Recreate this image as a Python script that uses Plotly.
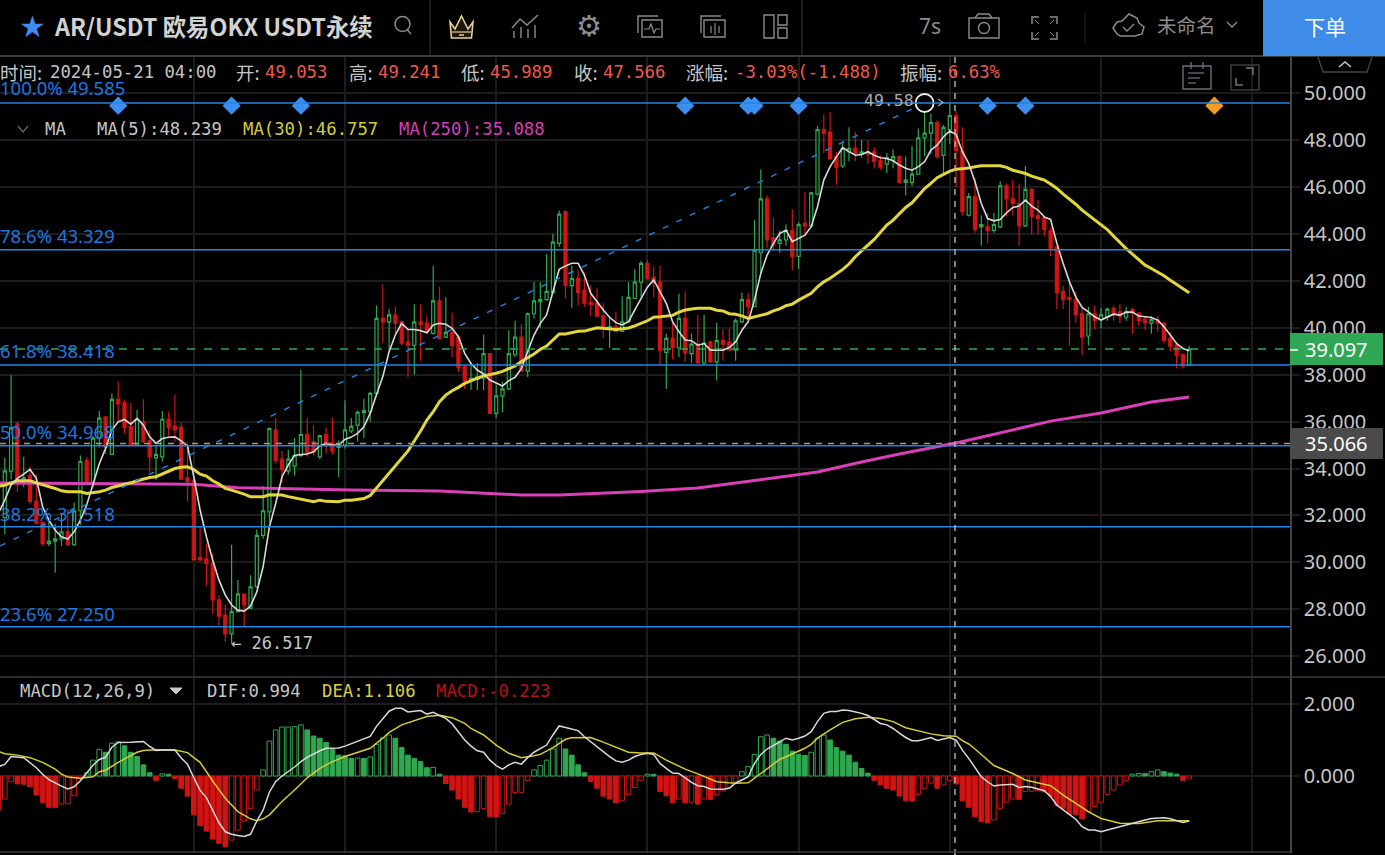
import plotly.graph_objects as go

# ---- candle series (4h bars, oldest first) ----
opens = [
    31.9, 33.89, 35.9, 33.5, 33.7, 32.6, 31.7, 30.8, 30.9, 31.0,
    31.3, 30.75, 32.2, 34.35, 33.35, 35.3, 36.2, 34.6, 36.95, 36.8,
    35.8, 35.0, 36.0, 35.2, 34.45, 34.5, 36.1, 35.8, 35.75, 33.6,
    33.5, 30.2, 30.15, 29.95, 28.4, 27.75, 26.95, 27.9, 28.65, 28.05,
    28.95, 31.15, 32.15, 35.65, 34.4, 33.9, 34.1, 34.55, 35.45, 35.15,
    34.5, 35.45, 35.1, 34.9, 35.0, 35.6, 35.85, 36.38, 36.42, 37.2,
    40.4, 40.25, 40.55, 40.25, 39.4, 39.25, 40.25, 40.2, 39.75, 41.15,
    39.6, 39.8, 39.6, 38.35, 37.75, 37.8, 37.85, 38.9, 36.35, 37.1,
    37.4, 38.85, 39.6, 38.15, 40.6, 41.1, 41.2, 41.5, 43.6, 44.95,
    41.8, 42.1, 41.6, 41.1, 41.05, 40.5, 39.95, 40.05, 39.85, 40.25,
    41.25, 41.95, 42.75, 42.15, 41.95, 38.95, 39.55, 39.15, 40.4, 38.9,
    39.3, 38.5, 39.4, 38.55, 39.45, 39.4, 39.05, 40.25, 41.2, 40.9,
    43.2, 45.5, 43.85, 43.6, 43.75, 44.15, 43.05, 44.45, 44.35, 45.7,
    48.45, 48.35, 47.3, 46.9, 47.5, 47.65, 47.4, 47.5, 47.5, 47.15,
    46.98, 47.15, 47.3, 46.2, 46.2, 46.55, 48.1, 48.3, 48.75, 47.35,
    48.45, 49.053, 47.55, 44.8, 45.6, 44.3, 44.3, 44.15, 44.3, 46.05,
    45.5, 45.3, 44.35, 45.9, 44.8, 44.7, 44.15, 43.45, 41.55, 41.3,
    41.2, 40.6, 39.65, 40.6, 40.35, 40.47, 40.82, 40.68, 40.45, 40.78,
    40.62, 40.37, 40.2, 40.33, 40.2, 39.55, 39.27, 38.87, 38.4,
]
highs = [
    34.45, 37.98, 36.0, 34.5, 34.1, 33.75, 31.75, 31.8, 31.65, 32.1,
    32.25, 32.55, 34.55, 34.5, 35.4, 36.45, 36.2, 37.2, 37.7, 36.95,
    36.8, 36.5, 36.95, 35.6, 35.0, 36.45, 36.4, 37.15, 35.95, 35.1,
    33.55, 31.55, 30.8, 30.35, 28.6, 28.2, 30.75, 29.25, 28.65, 29.45,
    31.4, 33.25, 35.75, 36.15, 34.75, 34.8, 35.3, 38.2, 36.15, 35.85,
    35.45, 35.75, 36.15, 35.2, 36.9, 36.15, 36.47, 36.97, 37.27, 40.95,
    41.85, 40.8, 40.9, 40.3, 39.9, 41.0, 41.0, 40.5, 42.65, 41.75,
    41.3, 40.65, 39.7, 38.35, 38.5, 38.5, 39.7, 38.9, 37.55, 37.7,
    39.9, 40.3, 40.15, 40.65, 41.95, 41.95, 43.15, 44.0, 45.0, 45.0,
    42.65, 42.45, 42.35, 41.8, 41.7, 41.05, 40.5, 40.7, 41.35, 41.95,
    42.5, 42.85, 42.9, 42.6, 42.65, 39.75, 40.2, 41.45, 41.55, 39.75,
    40.55, 40.55, 39.45, 40.2, 39.95, 39.95, 40.4, 41.5, 41.5, 44.6,
    46.75, 45.65, 44.7, 44.15, 44.4, 45.05, 44.5, 45.8, 45.8, 48.6,
    49.1, 49.2, 47.5, 47.95, 48.55, 48.35, 48.0, 48.0, 47.7, 47.35,
    47.45, 47.6, 47.35, 47.3, 47.75, 48.5, 49.15, 49.15, 48.85, 48.65,
    49.55, 49.241, 48.55, 45.75, 46.4, 44.8, 44.9, 44.9, 46.25, 46.15,
    46.3, 46.15, 46.9, 45.95, 45.45, 44.75, 44.3, 43.45, 41.8, 41.9,
    41.55, 40.9, 40.9, 40.95, 40.85, 40.85, 40.95, 41.0, 40.9, 40.87,
    40.68, 40.47, 40.5, 40.5, 40.25, 39.83, 39.4, 38.9, 39.25,
]
lows = [
    31.2, 33.53, 33.0, 33.2, 32.5, 31.6, 30.7, 30.7, 29.55, 30.7,
    30.7, 30.7, 31.6, 33.3, 33.2, 34.9, 34.6, 34.6, 36.0, 35.5,
    35.0, 35.0, 35.1, 33.8, 33.5, 34.3, 35.4, 35.15, 33.55, 32.6,
    30.1, 30.05, 29.0, 27.8, 27.3, 26.6, 26.517, 27.85, 27.25, 28.0,
    28.9, 31.0, 31.7, 34.2, 33.4, 33.75, 33.7, 34.5, 34.5, 34.55,
    34.4, 34.65, 34.6, 33.65, 34.85, 35.5, 35.15, 35.3, 36.0, 37.15,
    39.35, 39.05, 39.75, 39.25, 37.9, 38.0, 38.6, 39.75, 39.75, 39.5,
    39.55, 38.75, 38.1, 37.4, 37.35, 37.35, 37.35, 36.35, 36.15, 36.4,
    37.35, 38.75, 38.15, 37.9, 40.4, 40.0, 41.15, 41.5, 43.45, 41.25,
    40.85, 40.95, 40.9, 40.5, 40.45, 39.55, 39.15, 39.8, 39.85, 40.25,
    41.25, 41.3, 42.05, 41.3, 38.4, 37.4, 38.65, 38.75, 38.55, 38.5,
    38.5, 38.4, 38.5, 37.75, 38.6, 39.05, 38.6, 40.2, 40.45, 40.9,
    42.3, 43.4, 43.3, 43.2, 43.5, 42.45, 42.5, 43.95, 44.3, 45.65,
    47.45, 47.2, 46.1, 46.8, 47.1, 47.1, 47.25, 47.0, 46.8, 46.75,
    46.6, 46.8, 46.2, 45.65, 46.05, 46.55, 47.3, 47.4, 47.2, 46.55,
    47.85, 45.989, 44.8, 44.75, 44.05, 43.5, 43.6, 44.05, 44.25, 44.75,
    44.8, 43.5, 44.3, 43.98, 44.0, 43.9, 43.05, 40.8, 40.8, 39.25,
    40.2, 38.85, 39.25, 39.95, 39.98, 40.3, 40.3, 40.2, 40.3, 39.75,
    40.1, 39.9, 39.75, 39.83, 39.33, 38.98, 38.27, 38.27, 38.38,
]
closes = [
    33.9, 35.73, 33.4, 33.6, 32.6, 31.7, 30.8, 30.9, 31.0, 31.3,
    30.75, 32.2, 34.3, 33.4, 35.3, 36.15, 34.9, 36.95, 36.75, 35.75,
    35.0, 36.1, 35.15, 34.5, 34.6, 36.1, 35.75, 35.65, 33.55, 33.45,
    30.1, 30.1, 29.95, 28.4, 27.7, 26.95, 27.9, 28.65, 28.2, 28.95,
    31.15, 32.2, 35.7, 34.35, 33.95, 34.4, 34.55, 35.45, 34.65, 34.7,
    35.4, 35.0, 34.75, 34.95, 35.65, 35.8, 36.4, 36.47, 37.2, 40.4,
    40.25, 40.55, 40.2, 39.35, 39.25, 40.25, 40.15, 39.85, 41.15, 39.55,
    39.8, 39.25, 38.3, 37.75, 37.85, 37.9, 38.9, 36.35, 37.1, 37.4,
    38.9, 39.6, 38.15, 40.6, 41.15, 41.2, 41.55, 43.65, 44.85, 41.8,
    42.1, 41.5, 41.05, 41.0, 40.5, 39.95, 40.05, 39.85, 40.25, 41.3,
    41.95, 42.75, 42.1, 41.9, 39.05, 39.55, 39.15, 40.4, 38.93, 39.3,
    38.5, 39.35, 38.55, 39.45, 39.3, 39.05, 40.3, 41.2, 40.9, 43.3,
    45.5, 43.75, 43.55, 43.75, 44.15, 43.05, 44.4, 44.35, 45.75, 48.45,
    48.3, 47.2, 46.85, 47.65, 47.65, 47.45, 47.5, 47.4, 47.1, 46.85,
    47.25, 47.3, 46.2, 46.3, 46.55, 48.1, 48.3, 48.75, 47.3, 48.55,
    49.05, 47.566, 44.95, 45.6, 44.2, 44.4, 44.15, 44.4, 46.05, 45.5,
    45.3, 44.35, 45.9, 44.75, 44.65, 44.2, 43.4, 41.5, 41.2, 41.2,
    40.55, 39.6, 40.6, 40.3, 40.55, 40.8, 40.58, 40.5, 40.68, 40.62,
    40.3, 40.22, 40.35, 40.2, 39.47, 39.22, 38.83, 38.38, 39.097,
]

# ---- moving averages; the first point belongs to the bar just off the left edge ----
ma5 = [
    32.1,
    32.65, 33.3, 33.58, 33.76, 33.96, 33.58, 32.37, 31.8, 31.37, 31.09,
    30.99, 31.3, 31.8, 32.44, 33.36, 34.2, 34.86, 35.64, 35.99, 36.09,
    35.89, 36.14, 35.85, 35.35, 35.07, 35.28, 35.33, 35.35, 35.18, 34.96,
    33.65, 32.23, 31.09, 30.1, 29.24, 28.6, 28.18, 27.96, 27.92, 28.13,
    28.74, 29.81, 31.52, 32.51, 33.65, 34.15, 34.57, 34.59, 34.62, 34.71,
    34.96, 35.07, 35.0, 35.0, 35.24, 35.34, 35.5, 35.78, 36.36, 37.15,
    37.92, 38.98, 39.7, 40.19, 39.93, 39.93, 39.88, 39.79, 40.12, 40.19,
    40.15, 39.98, 39.62, 38.91, 38.48, 38.2, 38.03, 37.77, 37.66, 37.52,
    37.75, 37.89, 38.27, 38.98, 39.69, 40.19, 40.55, 41.54, 42.49, 42.64,
    42.75, 42.75, 42.25, 41.47, 41.11, 40.76, 40.45, 40.22, 40.12, 40.26,
    40.76, 41.26, 41.73, 42.04, 41.54, 41.04, 40.26, 39.84, 39.48, 39.45,
    39.26, 39.33, 39.05, 39.05, 39.05, 39.16, 39.4, 39.9, 40.26, 41.18,
    42.32, 43.1, 43.6, 44.02, 44.17, 43.67, 43.81, 43.95, 44.31, 45.16,
    46.3, 46.87, 47.29, 47.68, 47.51, 47.36, 47.39, 47.51, 47.36, 47.25,
    47.22, 47.12, 46.94, 46.8, 46.72, 46.87, 47.08, 47.58, 47.79, 48.15,
    48.39, 48.239, 47.51, 47.01, 46.23, 45.3, 44.66, 44.56, 44.62, 44.9,
    45.13, 45.19, 45.45, 45.19, 45.02, 44.73, 44.62, 43.6, 42.74, 41.96,
    41.32, 40.87, 40.68, 40.47, 40.33, 40.44, 40.58, 40.54, 40.67, 40.67,
    40.5, 40.47, 40.44, 40.33, 40.04, 39.69, 39.33, 39.12, 39.02,
]
ma30_bar = [
    -1, 0, 2, 4, 5, 7, 8, 9, 10, 12, 13, 15, 16, 17, 18, 20, 21, 23, 24, 25, 27,
    28, 29, 30, 31, 32, 33, 34, 35, 36, 37, 38, 39, 41, 42, 44, 45, 48, 49, 50, 51,
    53, 54, 55, 57, 58, 60, 62, 64, 66, 67, 68, 69, 70, 71, 72, 73, 75, 76, 78, 79,
    81, 82, 84, 85, 86, 87, 88, 89, 90, 91, 92, 93, 94, 95, 97, 99, 100, 102, 103, 104,
    105, 106, 107, 108, 109, 110, 112, 113, 114, 115, 116, 117, 118, 119, 120, 121, 122, 123, 124, 125,
    126, 127, 128, 129, 130, 131, 132, 133, 134, 135, 136, 137, 138, 139, 140, 141, 142, 143, 144, 145,
    146, 147, 148, 149, 150, 151, 152, 153, 154, 155, 158, 159, 160, 161, 162, 163, 164, 165, 166, 167,
    168, 169, 170, 171, 172, 173, 174, 175, 176, 177, 178, 179, 180, 181, 182, 183, 184, 185, 186, 187, 188,
]
ma30_val = [
    33.25, 33.29, 33.48, 33.48, 33.39, 33.25, 33.15, 33.05, 33.01, 33.01, 32.94, 33.01, 33.08, 33.19, 33.25, 33.39, 33.48, 33.62, 33.65, 33.76, 34.0,
    34.05, 34.07, 33.96, 33.76, 33.68, 33.48, 33.34, 33.15, 33.08, 33.01, 32.91, 32.8, 32.8, 32.88, 32.87, 32.8, 32.65, 32.58, 32.65, 32.6,
    32.58, 32.65, 32.65, 32.72, 32.85, 33.5, 34.1, 34.75, 35.6, 36.07, 36.42, 36.85, 37.13, 37.32, 37.46, 37.63, 37.85, 37.95, 38.06, 38.14,
    38.37, 38.56, 38.88, 39.08, 39.22, 39.48, 39.74, 39.74, 39.79, 39.85, 39.86, 39.93, 40.0, 39.98, 39.93, 39.99, 40.08, 40.3, 40.45, 40.47,
    40.5, 40.53, 40.67, 40.76, 40.8, 40.83, 40.83, 40.75, 40.72, 40.6, 40.58, 40.51, 40.4, 40.47, 40.53, 40.6, 40.72, 40.81, 40.94, 41.01,
    41.18, 41.32, 41.47, 41.75, 41.96, 42.11, 42.29, 42.49, 42.72, 43.03, 43.28, 43.53, 43.77, 44.07, 44.38, 44.59, 44.88, 45.13, 45.33, 45.66,
    45.94, 46.16, 46.4, 46.54, 46.68, 46.757, 46.77, 46.81, 46.87, 46.91, 46.91, 46.84, 46.72, 46.65, 46.58, 46.47, 46.37, 46.3, 46.13, 45.94,
    45.7, 45.49, 45.27, 45.02, 44.81, 44.59, 44.42, 44.19, 43.91, 43.63, 43.38, 43.14, 42.89, 42.67, 42.53, 42.39, 42.22, 42.03, 41.85, 41.68, 41.49,
]
ma250_bar = [-1, 12, 30, 37, 55, 69, 82, 88, 101, 110, 121, 129, 136, 142, 151, 158, 166, 174, 182, 188]
ma250_val = [33.38, 33.37, 33.33, 33.18, 33.08, 33.04, 32.87, 32.87, 33.02, 33.17, 33.55, 33.85, 34.28, 34.62, 35.088, 35.51, 36.02, 36.37, 36.84, 37.05]

# ---- MACD(12,26,9) ----
macd_hist = [
    -0.94,
    -0.64, -0.16, -0.22, -0.23, -0.30, -0.53, -0.73, -0.87, -0.88, -0.78,
    -0.77, -0.55, -0.08, 0.09, 0.44, 0.74, 0.66, 0.91, 0.95, 0.84,
    0.66, 0.54, 0.31, 0.09, -0.12, 0.06, 0.05, -0.07, -0.34, -0.56,
    -1.08, -1.38, -1.53, -1.75, -1.87, -1.96, -1.78, -1.5, -1.25, -0.9,
    -0.39, 0.17, 0.97, 1.28, 1.36, 1.361, 1.37, 1.42, 1.28, 1.11,
    1.05, 0.93, 0.75, 0.58, 0.56, 0.49, 0.5, 0.49, 0.53, 0.88,
    1.06, 1.14, 1.05, 0.79, 0.58, 0.49, 0.40, 0.23, 0.24, 0.05,
    -0.21, -0.39, -0.64, -0.87, -1.0, -0.99, -0.9, -1.13, -1.14, -1.04,
    -0.78, -0.46, -0.455, -0.12, 0.17, 0.29, 0.44, 0.75, 1.05, 0.75,
    0.58, 0.31, 0.09, -0.16, -0.34, -0.56, -0.64, -0.74, -0.69, -0.51,
    -0.32, -0.12, 0.05, 0.045, -0.43, -0.55, -0.74, -0.64, -0.74, -0.73,
    -0.78, -0.64, -0.65, -0.51, -0.42, -0.32, -0.16, 0.12, 0.26, 0.6,
    1.09, 1.14, 1.05, 0.97, 0.88, 0.69, 0.6, 0.57, 0.66, 1.05,
    1.14, 1.0, 0.79, 0.69, 0.58, 0.38, 0.21, 0.08, -0.12, -0.25,
    -0.34, -0.39, -0.56, -0.69, -0.695, -0.51, -0.34, -0.2, -0.34, -0.25,
    -0.12, -0.223, -0.69, -0.87, -1.13, -1.27, -1.3, -1.22, -0.9, -0.73,
    -0.64, -0.65, -0.43, -0.425, -0.41, -0.44, -0.56, -0.81, -0.9, -1.06,
    -1.08, -1.18, -0.99, -0.85, -0.73, -0.51, -0.39, -0.25, -0.12, 0.05,
    0.07, 0.065, 0.12, 0.17, 0.12, 0.08, 0.05, -0.12, -0.06,
]
dif_bar = [
    -1, 0, 1, 3, 5, 6, 7, 8, 9, 10, 11, 12, 13, 14, 15, 16, 17, 18, 20, 21, 22,
    23, 24, 25, 27, 28, 29, 30, 31, 32, 33, 34, 35, 36, 37, 38, 39, 40, 41, 42, 43,
    44, 46, 47, 48, 49, 50, 51, 52, 53, 54, 55, 56, 57, 58, 59, 60, 61, 62, 63, 64,
    65, 66, 67, 68, 69, 70, 71, 72, 73, 74, 75, 76, 77, 78, 79, 80, 81, 82, 83, 84,
    85, 86, 87, 88, 89, 90, 91, 92, 93, 94, 95, 96, 97, 98, 99, 100, 101, 102, 103, 104,
    105, 106, 107, 108, 109, 110, 111, 112, 113, 114, 115, 116, 117, 118, 119, 120, 121, 122, 123, 124,
    125, 126, 127, 128, 129, 130, 131, 132, 133, 134, 135, 136, 137, 138, 139, 140, 141, 142, 143, 144,
    145, 146, 147, 148, 149, 150, 151, 152, 153, 154, 155, 156, 157, 158, 159, 160, 161, 162, 163, 164,
    165, 166, 167, 168, 169, 170, 171, 172, 173, 174, 175, 176, 177, 178, 179, 180, 181, 182, 183, 184,
    185, 186, 187, 188,
]
dif_val = [
    0.26, 0.32, 0.54, 0.51, 0.23, 0.05, -0.1, -0.2, -0.28, -0.36, -0.3, -0.13, 0.07, 0.3, 0.46, 0.52, 0.8, 0.93, 0.94, 0.95, 0.96,
    0.82, 0.71, 0.72, 0.72, 0.5, 0.33, -0.05, -0.4, -0.6, -0.95, -1.3, -1.55, -1.62, -1.65, -1.68, -1.62, -1.25, -0.95, -0.45, -0.15,
    0.0, 0.25, 0.4, 0.52, 0.62, 0.7, 0.77, 0.78, 0.78, 0.83, 0.9, 0.98, 1.03, 1.1, 1.38, 1.6, 1.8, 1.88, 1.88, 1.78,
    1.8, 1.82, 1.72, 1.77, 1.68, 1.6, 1.45, 1.22, 1.0, 0.83, 0.7, 0.66, 0.44, 0.29, 0.19, 0.31, 0.38, 0.33, 0.51, 0.66,
    0.75, 0.86, 1.14, 1.39, 1.35, 1.31, 1.26, 1.09, 0.95, 0.81, 0.68, 0.54, 0.42, 0.38, 0.44, 0.54, 0.6, 0.63, 0.6, 0.35,
    0.21, 0.08, 0.07, -0.06, -0.18, -0.27, -0.29, -0.36, -0.37, -0.37, -0.34, -0.2, -0.11, -0.02, 0.35, 0.6, 0.75, 0.84, 0.95, 1.05,
    1.0, 1.05, 1.11, 1.23, 1.51, 1.74, 1.79, 1.79, 1.83, 1.82, 1.79, 1.74, 1.68, 1.56, 1.46, 1.42, 1.32, 1.19, 1.07, 0.98,
    0.98, 1.02, 1.07, 0.99, 1.03, 1.07, 0.994, 0.72, 0.49, 0.23, -0.02, -0.16, -0.28, -0.25, -0.24, -0.23, -0.32, -0.29, -0.31, -0.36,
    -0.41, -0.57, -0.81, -0.94, -1.08, -1.2, -1.41, -1.5, -1.5, -1.55, -1.5, -1.45, -1.41, -1.36, -1.31, -1.27, -1.22, -1.18, -1.16, -1.16,
    -1.19, -1.25, -1.29, -1.25,
]
dea_bar = [
    -1, 0, 2, 4, 6, 8, 9, 10, 12, 13, 14, 15, 16, 18, 20, 21, 22, 24, 27, 29, 30,
    31, 33, 35, 37, 39, 40, 41, 42, 44, 46, 48, 50, 52, 54, 56, 58, 60, 61, 63, 65,
    67, 69, 71, 73, 74, 76, 78, 80, 82, 84, 85, 87, 88, 89, 90, 92, 93, 95, 97, 99,
    101, 103, 105, 108, 110, 112, 113, 115, 116, 118, 119, 121, 123, 125, 127, 128, 129, 131, 133, 135,
    137, 139, 141, 143, 145, 147, 149, 150, 151, 152, 153, 154, 155, 157, 160, 162, 166, 168, 170, 172,
    174, 177, 180, 182, 183, 188,
]
dea_val = [
    0.68, 0.62, 0.58, 0.51, 0.38, 0.19, 0.05, -0.03, -0.06, -0.05, -0.02, 0.12, 0.16, 0.38, 0.58, 0.66, 0.71, 0.73, 0.72, 0.65, 0.51,
    0.38, -0.14, -0.62, -0.99, -1.19, -1.24, -1.19, -1.08, -0.71, -0.39, -0.05, 0.21, 0.4, 0.54, 0.66, 0.77, 1.05, 1.21, 1.42, 1.54,
    1.65, 1.69, 1.62, 1.46, 1.32, 1.14, 0.86, 0.63, 0.51, 0.56, 0.6, 0.79, 0.91, 1.02, 1.06, 1.08, 1.07, 0.94, 0.79, 0.66,
    0.64, 0.64, 0.44, 0.19, 0.06, -0.09, -0.16, -0.19, -0.2, -0.19, -0.06, 0.21, 0.46, 0.61, 0.77, 0.88, 1.05, 1.28, 1.49, 1.59,
    1.63, 1.6, 1.51, 1.34, 1.25, 1.17, 1.12, 1.11, 1.106, 0.98, 0.89, 0.75, 0.6, 0.29, 0.07, -0.11, -0.27, -0.53, -0.76, -0.99,
    -1.18, -1.31, -1.32, -1.27, -1.24, -1.24,
]

# ---- annotations on the price pane ----
fib_labels = ["100.0% 49.585", "78.6% 43.329", "61.8% 38.418", "50.0% 34.968", "38.2% 31.518", "23.6% 27.250"]
fib_levels = [49.585, 43.329, 38.418, 34.968, 31.518, 27.250]
signal_bars_blue = [18, 36, 47, 108, 118, 119, 126, 156, 162]
signal_bar_orange = [192]
trend_bars = [-0.76, 146]
trend_prices = [30.7, 49.585]
last_price = 39.097
hover_price = 35.066
price_ticks = [26, 28, 30, 32, 34, 36, 38, 40, 42, 44, 46, 48, 50]
macd_ticks = [0, 2]
grid_bars = [30, 54, 78, 102, 126, 150, 174, 198]

# ---- styling and page geometry ----
W, H = 1385, 855
PANE_RIGHT = 1290
BAR_X0, BAR_STEP = 4.8, 6.3
BLACK = "#000000"
GREEN = "#30a850"
RED = "#d01414"
WHITE_LINE = "#d9d9d9"
YELLOW = "#e2d63a"
MAGENTA = "#d93fb6"
BLUE = "#1f86e6"
FIB_TEXT = "#1c78e2"
GRID = "#1c1c1c"
SEP = "#3a3a3a"
TEXT = "#c6c6c6"
ICON = "#8c8c8c"
NUM_RED = "#ef5a4c"
MONO = "DejaVu Sans Mono"
CJK = "Noto Sans CJK SC"
SANS = "Noto Sans"

candle_bars = list(range(len(closes)))
line_bars = list(range(-1, len(closes)))


def fx(x):
    return x / W


def fy(y):
    return 1 - y / H


def bar_at(px):
    return (px - BAR_X0) / BAR_STEP


shapes, notes = [], []


def path(points, color=ICON, width=1.5, close=False, fill=None):
    d = "M" + " L".join(f"{fx(x):.5f},{fy(y):.5f}" for x, y in points) + (" Z" if close else "")
    shapes.append(dict(type="path", path=d, xref="paper", yref="paper",
                       line=dict(color=color, width=width),
                       fillcolor=fill if fill else "rgba(0,0,0,0)"))


def box(x0, y0, x1, y1, color=ICON, width=1.5, fill=None):
    shapes.append(dict(type="rect", xref="paper", yref="paper", x0=fx(x0), x1=fx(x1), y0=fy(y1), y1=fy(y0),
                       line=dict(color=color, width=width), fillcolor=fill if fill else "rgba(0,0,0,0)"))


def ring(cx, cy, r, color=ICON, width=1.5, fill=None):
    box(cx - r, cy - r, cx + r, cy + r, color, width, fill)
    shapes[-1]["type"] = "circle"


def text(x, y, s, color=TEXT, size=17.3, family=MONO, anchor="left"):
    # annotation boxes carry a small inner padding; pull left-aligned text back over it
    left = x - 2 if anchor == "left" else x
    notes.append(dict(xref="paper", yref="paper", x=fx(left), y=fy(y), text=s, showarrow=False,
                      xanchor=anchor, yanchor="middle", align=anchor,
                      font=dict(color=color, size=size, family=family)))


fig = go.Figure()

fig.add_trace(go.Candlestick(
    x=candle_bars, open=opens, high=highs, low=lows, close=closes, xaxis="x", yaxis="y",
    increasing=dict(line=dict(color=GREEN, width=1.2), fillcolor=BLACK),
    decreasing=dict(line=dict(color=RED, width=1.2), fillcolor=RED),
    whiskerwidth=0, showlegend=False, hoverinfo="skip"))

fig.add_trace(go.Scatter(x=ma250_bar, y=ma250_val, mode="lines", line=dict(color=MAGENTA, width=3),
                         xaxis="x", yaxis="y", showlegend=False))
fig.add_trace(go.Scatter(x=ma30_bar, y=ma30_val, mode="lines", line=dict(color=YELLOW, width=3),
                         xaxis="x", yaxis="y", showlegend=False))
fig.add_trace(go.Scatter(x=line_bars, y=ma5, mode="lines", line=dict(color=WHITE_LINE, width=1.6),
                         xaxis="x", yaxis="y", showlegend=False))

fig.add_trace(go.Scatter(x=trend_bars, y=trend_prices, mode="lines",
                         line=dict(color=BLUE, width=1.4, dash="6px,9px"),
                         xaxis="x", yaxis="y", showlegend=False))
fig.add_trace(go.Scatter(x=[trend_bars[1]], y=[trend_prices[1]], mode="markers",
                         marker=dict(size=18, color=BLACK, line=dict(color="#f0f0f0", width=1.8)),
                         xaxis="x", yaxis="y", showlegend=False))

fig.add_trace(go.Scatter(x=signal_bars_blue, y=[49.47] * len(signal_bars_blue), mode="markers",
                         marker=dict(symbol="diamond", size=14, color="#3a8ff0"),
                         xaxis="x", yaxis="y", showlegend=False))
fig.add_trace(go.Scatter(x=signal_bar_orange, y=[49.47], mode="markers",
                         marker=dict(symbol="diamond", size=14, color="#f59a23"),
                         xaxis="x", yaxis="y", showlegend=False))

# MACD columns: rising columns are drawn hollow, falling ones solid
hist_line, hist_fill = [], []
for k, v in enumerate(macd_hist):
    c = GREEN if v >= 0 else RED
    rising = k > 0 and v > macd_hist[k - 1]
    hist_line.append(c)
    hist_fill.append(BLACK if rising else c)
fig.add_trace(go.Bar(x=line_bars, y=macd_hist, width=0.74, xaxis="x2", yaxis="y2", showlegend=False,
                     marker=dict(color=hist_fill, line=dict(color=hist_line, width=1))))
fig.add_trace(go.Scatter(x=dea_bar, y=dea_val, mode="lines", line=dict(color="#d8cc36", width=1.5),
                         xaxis="x2", yaxis="y2", showlegend=False))
fig.add_trace(go.Scatter(x=dif_bar, y=dif_val, mode="lines", line=dict(color=WHITE_LINE, width=1.5),
                         xaxis="x2", yaxis="y2", showlegend=False))

# price pane reference lines
for lvl in fib_levels:
    shapes.append(dict(type="line", xref="paper", yref="y", x0=0, x1=fx(PANE_RIGHT), y0=lvl, y1=lvl,
                       line=dict(color=BLUE, width=1.5)))
shapes.append(dict(type="line", xref="paper", yref="y", x0=0, x1=fx(PANE_RIGHT), y0=last_price, y1=last_price,
                   line=dict(color=GREEN, width=1.5, dash="8px,9px")))
shapes.append(dict(type="line", xref="paper", yref="y", x0=0, x1=fx(PANE_RIGHT), y0=hover_price, y1=hover_price,
                   line=dict(color="#9a9a9a", width=1.4, dash="6px,6px")))
cross_x = bar_at(955)
shapes.append(dict(type="line", xref="x", yref="paper", x0=cross_x, x1=cross_x, y0=0, y1=fy(57),
                   line=dict(color="#b5b5b5", width=1.4, dash="6px,6px")))

# pane separators and header
box(0, 0, W, 56, color=BLACK, width=0, fill=BLACK)
path([(0, 56), (W, 56)], SEP, 2)
path([(0, 677), (W, 677)], SEP, 1.5)
path([(0, 852), (PANE_RIGHT, 852)], SEP, 1.5)
path([(430, 0), (430, 56)], SEP, 1)
path([(802, 0), (802, 56)], SEP, 1)
path([(1085, 12), (1085, 44)], "#222222", 1)

# order button
box(1263, 0, W, 56, color="#3f8ce8", width=0, fill="#3f8ce8")
text(1325, 26, "下单", "#ffffff", 21, CJK, "center")

# title bar
text(32, 27, "★", "#3d8bef", 30, "DejaVu Sans", "center")
text(54, 26, "<b>AR/USDT 欧易OKX USDT永续</b>", "#d2d2d2", 23.4, CJK)
ring(402.5, 24, 7.5, ICON, 1.5)
path([(407.5, 30), (411, 34)], ICON, 1.5)

# crown
path([(450, 22), (455, 29), (461.5, 16), (468, 29), (473, 22), (471.5, 38), (451.5, 38)],
     "#e9cf9c", 1.6, close=True, fill="#1c1508")
path([(452, 32), (471, 32)], "#e9cf9c", 1.2)
path([(459, 35), (464, 35)], "#e9cf9c", 1.5)

# indicators icon
for bx, top in [(514, 31), (521, 27), (528, 29), (535, 25)]:
    path([(bx, top), (bx, 38)], ICON, 1.4)
path([(512, 28), (520, 19), (527, 25), (538, 15)], ICON, 1.4)

# settings icon
text(588.5, 26, "⚙", ICON, 29, "DejaVu Sans", "center")

# pulse page icon
box(642, 20, 662, 37, ICON, 1.4)
path([(638, 33), (638, 16), (658, 16)], ICON, 1.4)
path([(644, 29), (649, 29), (651, 24), (654, 33), (656, 29), (660, 29)], ICON, 1.2)

# bars page icon
box(704, 20, 725, 37, ICON, 1.4)
path([(701, 33), (701, 16), (721, 16)], ICON, 1.4)
for bx, top, bot in [(711, 26, 33), (715, 23, 35), (719, 26, 33)]:
    path([(bx, top), (bx, bot)], ICON, 1.2)

# layout icon
box(764, 15, 774, 38, ICON, 1.4)
box(778, 15, 787, 25, ICON, 1.4)
box(778, 28, 787, 38, ICON, 1.4)

# right side of the header
text(930, 26, "7s", ICON, 21, SANS, "center")
box(969, 18, 999, 38, ICON, 1.4)
path([(975, 18), (978, 14), (989, 14), (992, 18)], ICON, 1.4)
ring(984, 28, 5.5, ICON, 1.4)
for cx, cy, sx, sy in [(1032, 17, 1, 1), (1057, 17, -1, 1), (1032, 39, 1, -1), (1057, 39, -1, -1)]:
    path([(cx, cy + sy * 7), (cx, cy), (cx + sx * 7, cy)], ICON, 1.5)
    path([(cx + sx * 3, cy + sy * 3), (cx + sx * 7, cy + sy * 7)], ICON, 1)
path([(1117, 34), (1113, 28), (1117, 22), (1122, 21), (1129, 14), (1137, 18), (1139, 23),
      (1144, 27), (1142, 34), (1135, 36), (1120, 36)], ICON, 1.5, close=True)
path([(1123, 27), (1127, 31), (1134, 24)], ICON, 1.4)
text(1157, 25, "未命名", ICON, 19.5, CJK)
path([(1227, 22), (1232, 27), (1237, 22)], ICON, 1.3)

# info line for the hovered bar
for x, s in [(0, "时间:"), (236, "开:"), (349, "高:"), (461, "低:"), (574, "收:"), (686, "涨幅:"), (900, "振幅:")]:
    text(x, 72, s, TEXT, 18.5, CJK)
text(50, 72, "2024-05-21 04:00", TEXT)
for x, s in [(265, "49.053"), (378, "49.241"), (490, "45.989"), (603, "47.566"),
             (735, "-3.03%(-1.488)"), (948, "6.63%")]:
    text(x, 72, s, NUM_RED)

# legends
path([(18, 126), (23, 132), (28, 126)], "#666666", 1.3)
text(45, 129, "MA", TEXT)
text(97, 129, "MA(5):48.239", TEXT)
text(243, 129, "MA(30):46.757", "#d4cc3a")
text(399, 129, "MA(250):35.088", "#d63fb8")
text(20, 691, "MACD(12,26,9)", TEXT)
path([(170, 688), (182, 688), (176, 694)], TEXT, 1, close=True, fill=TEXT)
text(207, 691, "DIF:0.994", TEXT)
text(322, 691, "DEA:1.106", "#d8d040")
text(436, 691, "MACD:-0.223", "#b51212")

# fibonacci captions
for cap, yy in zip(fib_labels, [88, 235, 350, 431, 513, 613]):
    text(0, yy, cap, FIB_TEXT, 18.5, SANS)

# low and high callouts
text(231, 643, "← 26.517", TEXT, 17, MONO)
text(864, 100, "49.58", "#a9a9a9", 16.5, MONO)
path([(938, 99), (943, 102.5), (938, 106)], "#a9a9a9", 1.2)

# pane tools
box(1183, 66, 1211, 89, "#6a6e78", 1.4)
path([(1191, 62), (1191, 69)], "#6a6e78", 1.4)
path([(1203, 62), (1203, 69)], "#6a6e78", 1.4)
for a, b, yy in [(1188, 1204, 73), (1188, 1200, 78), (1188, 1196, 83)]:
    path([(a, yy), (b, yy)], "#6a6e78", 1.3)
box(1231, 65, 1259, 90, "#3c3c3c", 1.6)
path([(1246, 68), (1253, 68), (1253, 75)], "#777777", 1.5)
path([(1236, 78), (1236, 85), (1243, 85)], "#777777", 1.5)
path([(1318, 57), (1323, 72), (1367, 72), (1372, 57)], "#444444", 1.3)
path([(1339, 67), (1345, 62), (1351, 67)], "#c8c8c8", 1.5)

# price tags on the scale
box(PANE_RIGHT, 333, 1383, 365, "#2fa755", 0, "#2fa755")
path([(PANE_RIGHT, 350), (1298, 350)], "#ffffff", 1.5)
text(1305, 349, "39.097", "#ffffff", 20, SANS)
box(PANE_RIGHT, 428, 1383, 459, "#4a4a4a", 0, "#4a4a4a")
text(1305, 443, "35.066", "#ffffff", 20, SANS)

axis_x = dict(range=[bar_at(0), bar_at(PANE_RIGHT)], showticklabels=False, ticks="",
              tickmode="array", tickvals=grid_bars, showgrid=True, gridcolor=GRID, gridwidth=1.6,
              zeroline=False, showline=False, rangeslider=dict(visible=False), fixedrange=True)
axis_y = dict(side="right", showgrid=True, gridcolor=GRID, gridwidth=1.6, zeroline=False, showline=True,
              linecolor="#444444", linewidth=1.5, ticks="outside", ticklen=8, tickcolor=GRID, tickwidth=1.6,
              tickformat=".3f", tickmode="array", fixedrange=True,
              tickfont=dict(color=TEXT, size=20, family=SANS))

fig.update_layout(
    width=W, height=H, margin=dict(l=0, r=0, t=0, b=0),
    paper_bgcolor=BLACK, plot_bgcolor=BLACK, showlegend=False, barmode="overlay",
    hovermode=False, dragmode=False, shapes=shapes, annotations=notes,
    xaxis=dict(axis_x, domain=[0, fx(PANE_RIGHT)], anchor="y"),
    xaxis2=dict(axis_x, domain=[0, fx(PANE_RIGHT)], anchor="y2"),
    yaxis=dict(axis_y, domain=[fy(677), fy(56)], anchor="x", range=[25.11, 51.59], tickvals=price_ticks),
    yaxis2=dict(axis_y, domain=[fy(853), fy(677)], anchor="x2", range=[-2.139, 2.75], tickvals=macd_ticks),
)

fig.write_html("out.html", config={"displayModeBar": False})
